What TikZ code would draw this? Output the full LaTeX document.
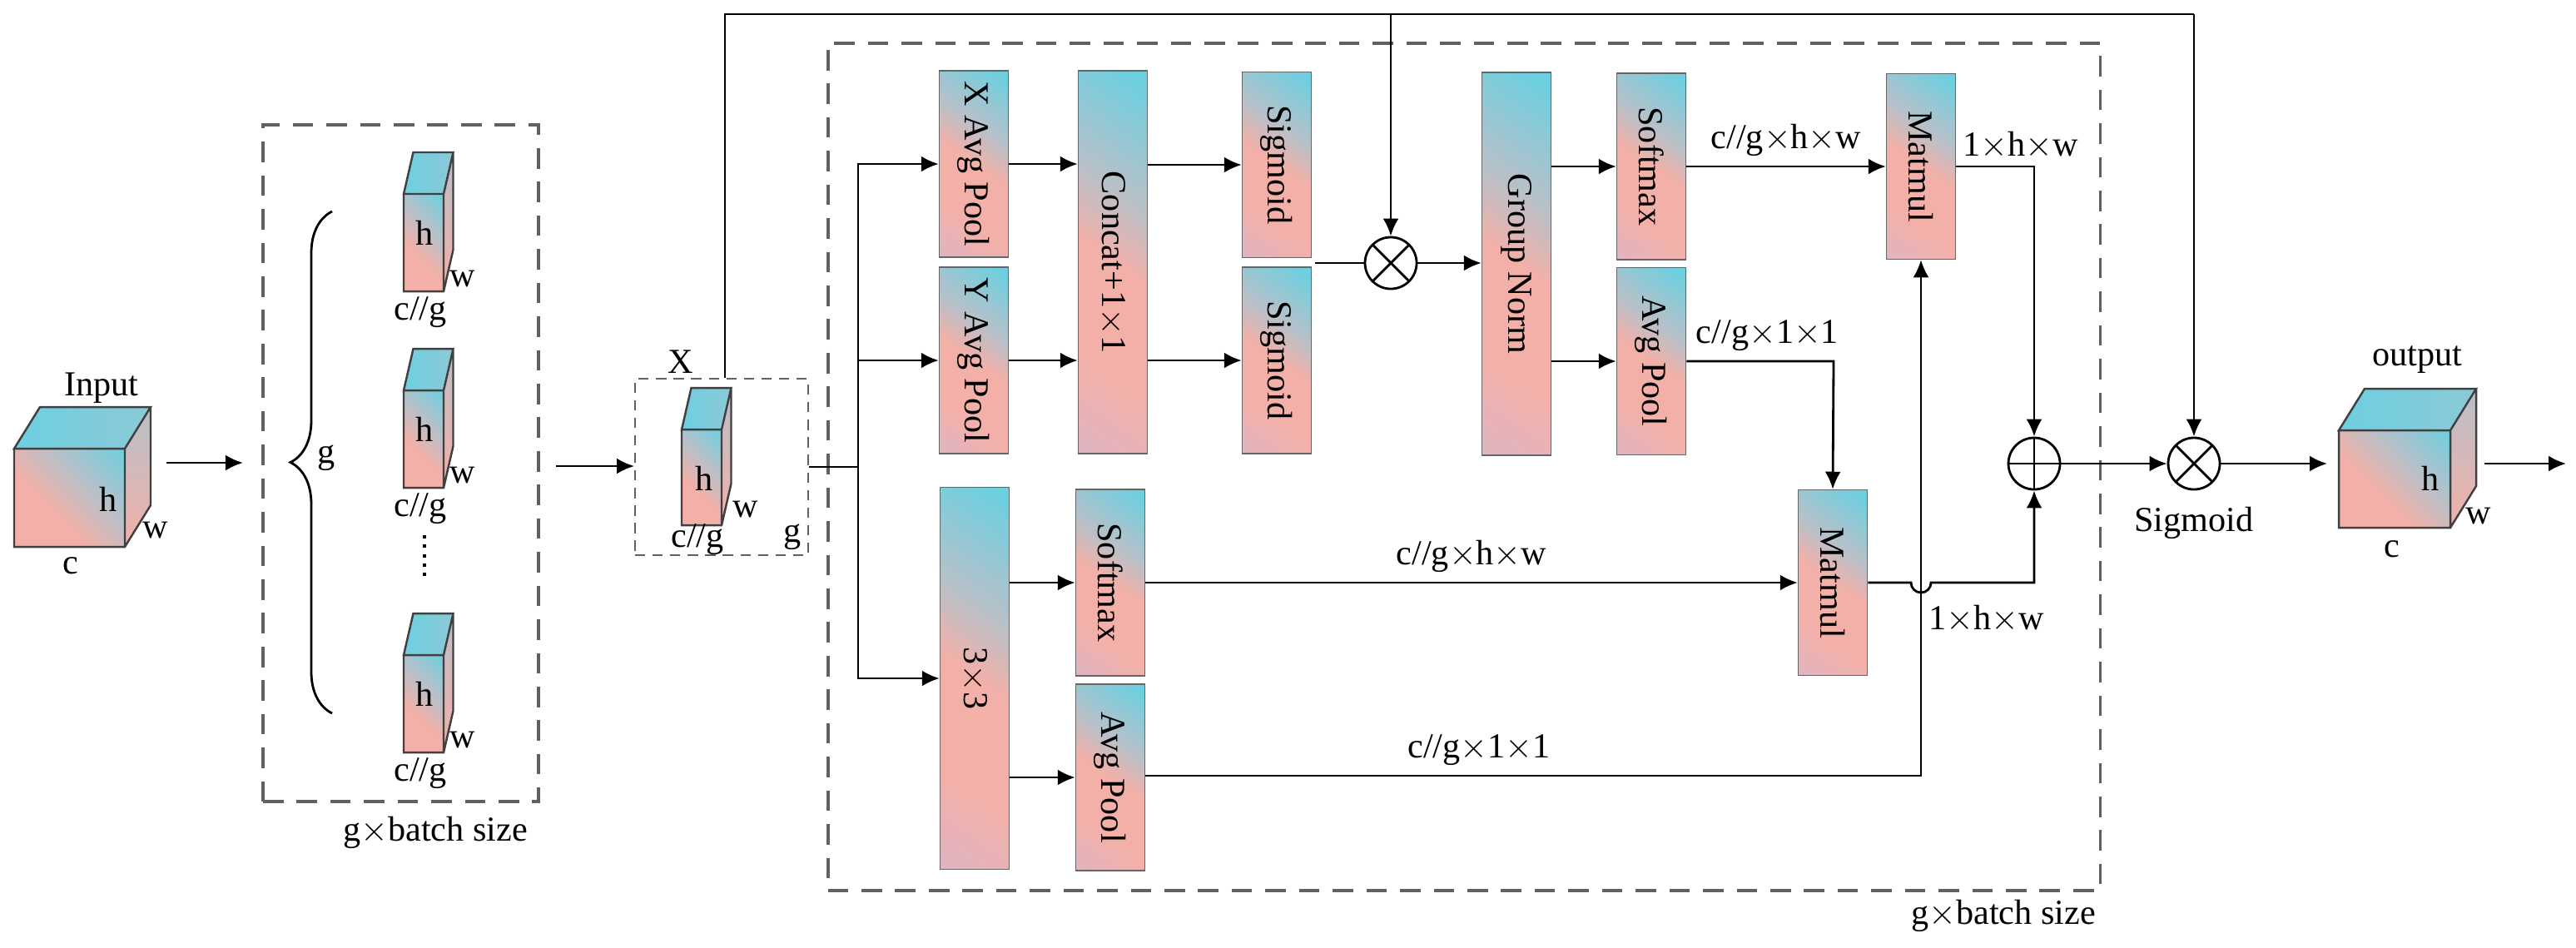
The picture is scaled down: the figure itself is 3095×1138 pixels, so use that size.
\documentclass[tikz,border=0pt]{standalone}
\usepackage{fontspec}
\setmainfont{Liberation Serif}
\usetikzlibrary{arrows.meta,decorations.pathreplacing}
\definecolor{cy}{HTML}{6DCFE0}
\definecolor{pk}{HTML}{F3B0A8}
\definecolor{md}{HTML}{B9C0C8}
\definecolor{lav}{HTML}{CDB8D8}
\definecolor{dgray}{HTML}{606060}
\pgfdeclareverticalshading{blkshade}{100bp}{color(0bp)=(lav); color(32bp)=(pk); color(50bp)=(pk); color(62bp)=(md); color(82bp)=(cy); color(100bp)=(cy)}
\pgfdeclareverticalshading{cubeshade}{100bp}{color(0bp)=(pk); color(40bp)=(pk); color(60bp)=(md); color(85bp)=(cy); color(100bp)=(cy)}
\begin{document}
\begin{tikzpicture}[x=0.01cm,y=-0.01cm,font=\fontsize{12}{14}\selectfont,
 blk/.style={draw=gray!80!black, shading=blkshade, shading angle=-35, minimum width=0.83cm, inner sep=0pt},
 arr/.style={-{Latex[length=2.1mm,width=1.9mm]}, line width=0.8pt},
 ln/.style={line width=0.8pt},
 dbox/.style={draw=dgray, line width=1.1pt, dash pattern=on 7pt off 4.5pt, inner sep=0pt},
 otimes/.style={circle, draw, line width=0.8pt, minimum size=0.62cm, inner sep=0pt,
   path picture={\draw[line width=0.8pt] (path picture bounding box.north west)--(path picture bounding box.south east) (path picture bounding box.north east)--(path picture bounding box.south west);}},
 oplus/.style={circle, draw, line width=0.8pt, minimum size=0.62cm, inner sep=0pt,
   path picture={\draw[line width=0.8pt] (path picture bounding box.north)--(path picture bounding box.south) (path picture bounding box.east)--(path picture bounding box.west);}},
 lbl/.style={inner sep=1pt}]
\useasboundingbox (0,0) rectangle (3095,1138);

% cube macro: x y w h dx dy
\newcommand\mycube[6]{%
 \shade[left color=cy, right color=cy!60!md] (#1,#2) -- ({#1+#5},{#2+#6}) -- ({#1+#3+#5},{#2+#6}) -- ({#1+#3},#2) -- cycle;
 \shade[top color=md, bottom color=pk] ({#1+#3},#2) -- ({#1+#3+#5},{#2+#6}) -- ({#1+#3+#5},{#2+#4+#6}) -- ({#1+#3},{#2+#4}) -- cycle;
 \shade[shading=cubeshade, shading angle=-45] (#1,#2) rectangle ({#1+#3},{#2+#4});
 \draw[line width=0.7pt, black!75] (#1,#2) -- ({#1+#5},{#2+#6}) -- ({#1+#3+#5},{#2+#6}) -- ({#1+#3},#2) -- cycle
   ({#1+#3+#5},{#2+#6}) -- ({#1+#3+#5},{#2+#4+#6}) -- ({#1+#3},{#2+#4}) (#1,#2) rectangle ({#1+#3},{#2+#4});}

% ---------- input ----------
\mycube{17}{539}{133}{118}{31}{-50}
\node[lbl] (tin) at (122,466) {Input};
\node[lbl] (tinh) at (130,600) {h};
\node[lbl] (tinw) at (187,637) {w};
\node[lbl] (tinc) at (85,680) {c};
\coordinate (a1s) at (200,556);
\coordinate (a1e) at (292,556);
\draw[arr] (a1s) -- (a1e);

% ---------- group box ----------
\node[dbox, minimum width=3.31cm, minimum height=8.13cm] (gbox) at (481.5,556.5) {};
\node[lbl] (gb1) at (523,1000) {g$\times$batch size};
\coordinate (brb) at (399,857);
\coordinate (brt) at (399,254);
\draw[line width=0.8pt, decorate, decoration={brace, amplitude=0.5cm}] (brb) -- (brt);
\node[lbl] (tg) at (392,550) {g};
\mycube{485}{233}{48}{117}{11.5}{-50}
\mycube{485}{469}{48}{117}{11.5}{-50}
\mycube{485}{787}{48}{117}{11.5}{-50}
\node[lbl] (h1) at (510,280) {h};
\node[lbl] (w1) at (556,335) {w};
\node[lbl] (c1) at (505,375) {c//g};
\node[lbl] (h2) at (510,516) {h};
\node[lbl] (w2) at (556,571) {w};
\node[lbl] (c2) at (505,611) {c//g};
\node[lbl] (h3) at (510,834) {h};
\node[lbl] (w3) at (556,889) {w};
\node[lbl] (c3) at (505,929) {c//g};
\coordinate (dt) at (510,643);
\coordinate (db) at (510,692);
\draw[line width=1.2pt, dotted] (dt) -- (db);
\coordinate (a2s) at (668,560);
\draw[arr] (a2s) -- (762,560) coordinate (a2e);

% ---------- X box ----------
\node[draw=dgray, line width=0.7pt, dash pattern=on 3.5pt off 2.5pt, minimum width=2.08cm, minimum height=2.12cm, inner sep=0] (xbox) at (867,561) {};
\mycube{819}{516}{48}{115}{11.5}{-50}
\node[lbl] (tx) at (818,435) {X};
\node[lbl] (hx) at (846,575) {h};
\node[lbl] (wx) at (896,612) {w};
\node[lbl] (cx) at (838,648) {c//g};
\node[lbl] (gx) at (952,645) {g};

% ---------- main box ----------
\node[dbox, minimum width=15.28cm, minimum height=10.18cm] (mbox) at (1759,561) {};
\node[lbl] (gb2) at (2407,1100) {g$\times$batch size};

\node[blk, minimum height=2.24cm] (xap) at (1170,197) {\rotatebox{-90}{X Avg Pool}};
\node[blk, minimum height=2.24cm] (yap) at (1170,433) {\rotatebox{-90}{Y Avg Pool}};
\node[blk, minimum height=4.60cm] (cat) at (1337,315) {\rotatebox{-90}{Concat+1$\times$1}};
\node[blk, minimum height=2.23cm] (sg1) at (1534,198) {\rotatebox{-90}{Sigmoid}};
\node[blk, minimum height=2.24cm] (sg2) at (1534,433) {\rotatebox{-90}{Sigmoid}};
\node[otimes] (mul1) at (1671,316) {};
\node[blk, minimum height=4.60cm] (gn) at (1822,317) {\rotatebox{-90}{Group Norm}};
\node[blk, minimum height=2.24cm] (sm1) at (1984,200) {\rotatebox{-90}{Softmax}};
\node[blk, minimum height=2.25cm] (ap1) at (1984,434) {\rotatebox{-90}{Avg Pool}};
\node[blk, minimum height=2.23cm] (mm1) at (2308,200) {\rotatebox{-90}{Matmul}};
\node[blk, minimum height=2.23cm] (mm2) at (2202,700) {\rotatebox{-90}{Matmul}};
\node[blk, minimum height=4.59cm] (c33) at (1171,815) {\rotatebox{-90}{3$\times$3}};
\node[blk, minimum height=2.24cm] (sm2) at (1334,700) {\rotatebox{-90}{Softmax}};
\node[blk, minimum height=2.24cm] (ap2) at (1334,934) {\rotatebox{-90}{Avg Pool}};
\node[oplus] (plus) at (2444,557) {};
\node[otimes] (mul2) at (2636,557) {};
\node[lbl] (tsig) at (2636,628) {Sigmoid};

% branches
\coordinate (br) at (1031,561);
\draw[ln] (xbox.east |- br) -- (br);
\draw[arr] (br) |- (xap.west);
\draw[arr] (br) |- (yap.west);
\draw[arr] (br) |- (c33.west);
% top skip
\coordinate (tl) at (871,17);
\coordinate (tr) at (2636,17);
\draw[ln] (xbox.north -| tl) -- (tl) -- (tr);
\draw[arr] (tr) -- (mul2.north);
\draw[arr] (mul1 |- tl) -- (mul1.north);

\draw[arr] (xap.east) -- (xap.east -| cat.west);
\draw[arr] (yap.east) -- (yap.east -| cat.west);
\draw[arr] (cat.east |- sg1) -- (sg1.west);
\draw[arr] (cat.east |- sg2) -- (sg2.west);
\coordinate (sgo) at (1580,316);
\draw[ln] (sgo) -- (mul1.west);
\draw[arr] (mul1.east) -- (mul1.east -| gn.west);
\draw[arr] (gn.east |- sm1) -- (sm1.west);
\draw[arr] (gn.east |- ap1) -- (ap1.west);
\draw[arr] (sm1.east) -- node[above, lbl, yshift=2pt] (l1) {c//g$\times$h$\times$w} (sm1.east -| mm1.west);
\coordinate (k1) at (2203,434);
\draw[arr] (ap1.east) -- node[above, lbl, yshift=2pt, pos=0.55] (l2) {c//g$\times$1$\times$1} (k1) -- (mm2.north);
\coordinate (k2) at (2444,200);
\draw[arr] (mm1.east) -- (k2) -- (plus.north);
\node[lbl] (l3) at (2428,175) {1$\times$h$\times$w};
\draw[arr] (c33.east |- sm2) -- (sm2.west);
\draw[arr] (c33.east |- ap2) -- (ap2.west);
\draw[arr] (sm2.east) -- node[above, lbl, yshift=2pt] (l4) {c//g$\times$h$\times$w} (sm2.east -| mm2.west);
\coordinate (k3) at (2308,932);
\draw[arr] (ap2.east |- k3) -- node[above, lbl, yshift=2pt, pos=0.43] (l5) {c//g$\times$1$\times$1} (k3) -- (mm1.south);
\coordinate (k4) at (2444,700);
\draw[arr] (mm2.east) -- (2296,700) arc (180:0:12) -- (k4) -- (plus.south);
\node[lbl] (l6) at (2387,744) {1$\times$h$\times$w};
\draw[arr] (plus.east) -- (mul2.west);

% output
\coordinate (oin) at (2796,557);
\draw[arr] (mul2.east) -- (oin);
\mycube{2810}{517}{134}{117}{31}{-50}
\node[lbl] (tout) at (2904,432) {output};
\node[lbl] (touth) at (2920,575) {h};
\node[lbl] (toutw) at (2978,620) {w};
\node[lbl] (toutc) at (2874,660) {c};
\coordinate (os) at (2985,557);
\coordinate (oe) at (3083,557);
\draw[arr] (os) -- (oe);
\end{tikzpicture}
\end{document}
